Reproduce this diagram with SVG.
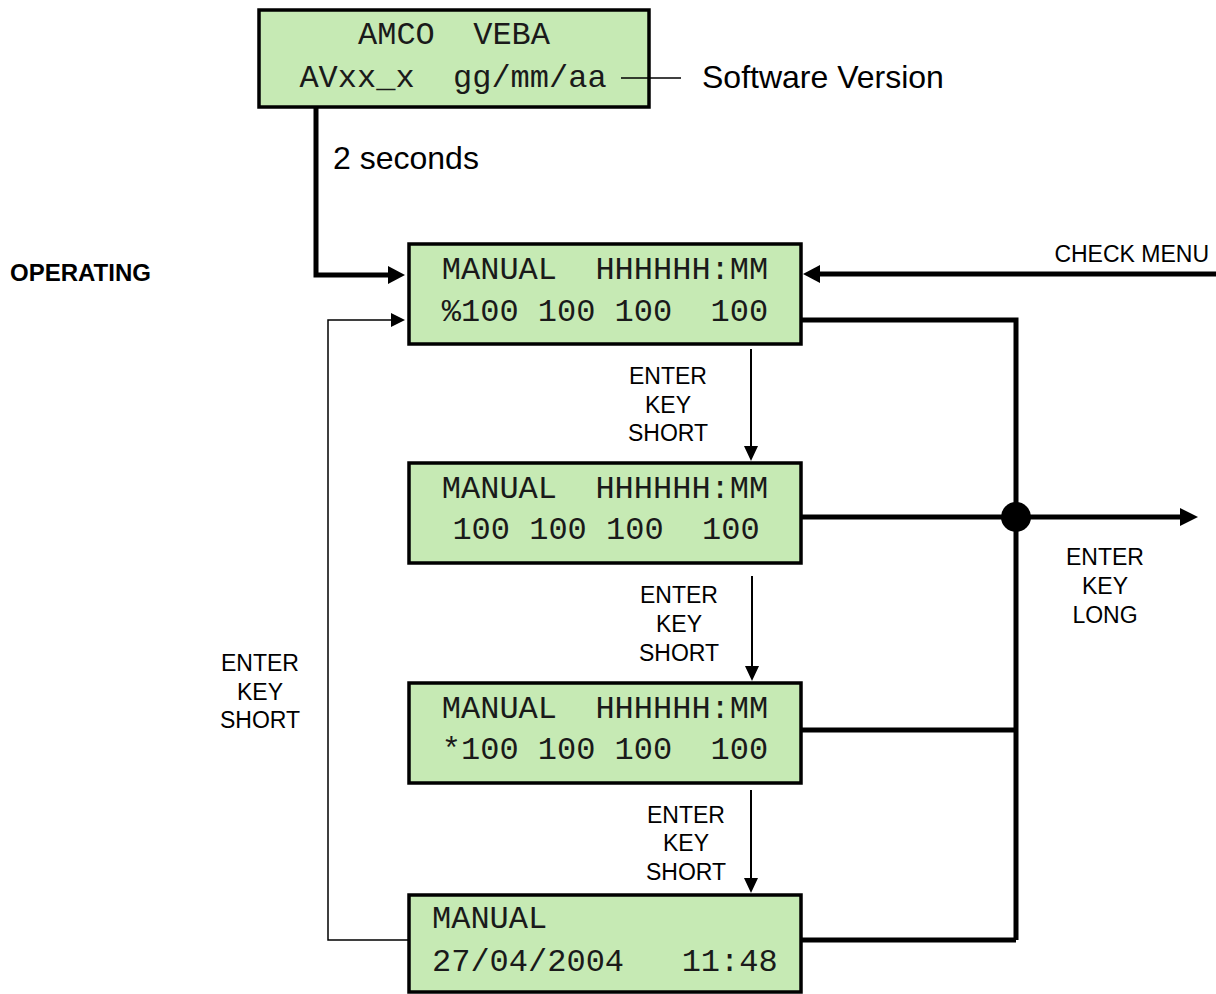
<svg xmlns="http://www.w3.org/2000/svg" width="1216" height="994" viewBox="0 0 1216 994">
<style>
.box{fill:#c6eab4;stroke:#000;stroke-width:3.5}
.mono{font-family:"Liberation Mono","Courier New",monospace;font-size:32px;fill:#1a1a1a}
.mid{text-anchor:middle}
.lbl{font-family:"Liberation Sans",Arial,sans-serif;font-size:23px;fill:#000;text-anchor:middle}
.big{font-family:"Liberation Sans",Arial,sans-serif;font-size:32px;fill:#000}
.thick{fill:none;stroke:#000;stroke-width:5}
.thin{fill:none;stroke:#000;stroke-width:2}
.hair{fill:none;stroke:#000;stroke-width:1.5}
</style>
<rect width="1216" height="994" fill="#fff"/>
<g id="connectors">
<path class="thick" d="M316,107 V275 H390"/>
<polygon points="388,266 405,275 388,284"/>
<path class="thick" d="M1216,274 H818"/>
<polygon points="820,265 803,274 820,283"/>
<path class="thick" d="M801,320 H1016 V940"/>
<path class="thick" d="M801,517 H1182"/>
<polygon points="1180,508 1198,517 1180,526"/>
<circle cx="1016" cy="517" r="15"/>
<path class="thick" d="M801,730 H1016"/>
<path class="thick" d="M801,940 H1016"/>
<path class="thin" d="M751,349 V448"/>
<polygon points="744,446 751,461 758,446"/>
<path class="thin" d="M752,576 V668"/>
<polygon points="745,666 752,681 759,666"/>
<path class="thin" d="M751,790 V880"/>
<polygon points="744,878 751,893 758,878"/>
<path class="hair" d="M409,940 H328 V320 H393"/>
<polygon points="391,313 405,320 391,327"/>
</g>
<g id="node-startup">
<rect class="box" x="259" y="10" width="390" height="97"/>
<text class="mono mid" x="454" y="44" xml:space="preserve">AMCO  VEBA</text>
<text class="mono mid" x="453" y="87" xml:space="preserve">AVxx_x  gg/mm/aa</text>
</g>
<g id="node-manual1">
<rect class="box" x="409" y="244" width="392" height="100"/>
<text class="mono mid" x="605" y="279" xml:space="preserve">MANUAL  HHHHHH:MM</text>
<text class="mono mid" x="605" y="321" xml:space="preserve">%100 100 100  100</text>
</g>
<g id="node-manual2">
<rect class="box" x="409" y="463" width="392" height="100"/>
<text class="mono mid" x="605" y="498" xml:space="preserve">MANUAL  HHHHHH:MM</text>
<text class="mono mid" x="606" y="539" xml:space="preserve">100 100 100  100</text>
</g>
<g id="node-manual3">
<rect class="box" x="409" y="683" width="392" height="100"/>
<text class="mono mid" x="605" y="718" xml:space="preserve">MANUAL  HHHHHH:MM</text>
<text class="mono mid" x="605" y="759" xml:space="preserve">*100 100 100  100</text>
</g>
<g id="node-manual4">
<rect class="box" x="409" y="895" width="392" height="97"/>
<text class="mono" x="432" y="928">MANUAL</text>
<text class="mono" x="432" y="971" xml:space="preserve">27/04/2004   11:48</text>
</g>
<g id="callout">
<path class="hair" d="M621,78 H681"/>
</g>
<g id="labels">
<text class="big" x="702" y="88">Software Version</text>
<text class="big" x="333" y="169">2 seconds</text>
<text x="10" y="281" style="font-family:'Liberation Sans',Arial,sans-serif;font-size:24px;font-weight:bold">OPERATING</text>
<text class="lbl" x="1209" y="262" style="text-anchor:end">CHECK MENU</text>
<text class="lbl" x="668" y="384">ENTER</text>
<text class="lbl" x="668" y="413">KEY</text>
<text class="lbl" x="668" y="441">SHORT</text>
<text class="lbl" x="679" y="603">ENTER</text>
<text class="lbl" x="679" y="632">KEY</text>
<text class="lbl" x="679" y="661">SHORT</text>
<text class="lbl" x="686" y="823">ENTER</text>
<text class="lbl" x="686" y="851">KEY</text>
<text class="lbl" x="686" y="880">SHORT</text>
<text class="lbl" x="260" y="671">ENTER</text>
<text class="lbl" x="260" y="700">KEY</text>
<text class="lbl" x="260" y="728">SHORT</text>
<text class="lbl" x="1105" y="565">ENTER</text>
<text class="lbl" x="1105" y="594">KEY</text>
<text class="lbl" x="1105" y="623">LONG</text>
</g>
</svg>
